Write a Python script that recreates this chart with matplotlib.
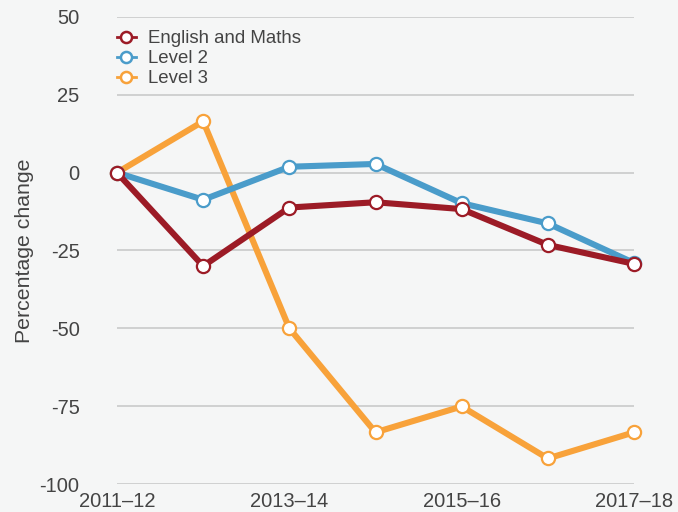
import matplotlib
matplotlib.use("Agg")
import matplotlib.pyplot as plt
from matplotlib.lines import Line2D

years = ["2011–12", "2012–13", "2013–14", "2014–15", "2015–16", "2016–17", "2017–18"]
english_maths = [0, -30, -11.2, -9.5, -11.7, -23.2, -29.3]
level2 = [0, -8.7, 1.9, 2.8, -9.8, -16.3, -29.0]
level3 = [0, 16.5, -50, -83.4, -75.1, -91.8, -83.4]
yticks = [-100, -75, -50, -25, 0, 25, 50]
ytick_labels = ["-100", "-75", "-50", "-25", "0", "25", "50"]
series_names = ["English and Maths", "Level 2", "Level 3"]
colors = ["#9c1b26", "#4a9cca", "#f8a23a"]

bg = "#f5f6f6"
txt = "#444444"
plt.rcParams["font.family"] = ["Liberation Sans", "DejaVu Sans"]

fig = plt.figure(figsize=(6.78, 5.12), dpi=100, facecolor=bg)
ax = fig.add_axes([117/678, 28/512, (634-117)/678, (484-17)/512])
ax.set_facecolor(bg)

x = list(range(len(years)))
for data, c, z in [(level3, colors[2], 3), (level2, colors[1], 4), (english_maths, colors[0], 5)]:
    ax.plot(x, data, color=c, lw=4.4, marker="o", ms=9.5, mfc="white", mec=c, mew=1.6,
            clip_on=False, zorder=z, solid_joinstyle="round")

ax.set_xlim(0, 6)
ax.set_ylim(-100, 50)
ax.set_yticks(yticks)
ax.set_yticklabels(ytick_labels)
ax.set_xticks(x[::2])
ax.set_xticklabels(years[::2])
ax.grid(axis="y", color="#c6c6c6", lw=1.1)
ax.set_axisbelow(True)
for s in ax.spines.values():
    s.set_visible(False)
ax.tick_params(axis="y", length=0, pad=27, labelsize=14.5, labelcolor=txt)
ax.tick_params(axis="x", length=0, pad=6, labelsize=14.5, labelcolor=txt)
ax.set_ylabel("Percentage change", fontsize=15.3, color=txt, labelpad=4)

handles = [Line2D([0], [0], color=c, lw=2.0, marker="o", ms=8, mfc="white", mec=c, mew=1.8)
           for c in colors]
leg = ax.legend(handles, series_names, loc="upper left", bbox_to_anchor=(0.0, 0.972),
                frameon=False, fontsize=13.4, labelspacing=0.17, handlelength=1.0,
                handletextpad=0.65, borderpad=0, borderaxespad=0)
for t in leg.get_texts():
    t.set_color(txt)

fig.savefig("out.png", dpi=100, facecolor=bg)
